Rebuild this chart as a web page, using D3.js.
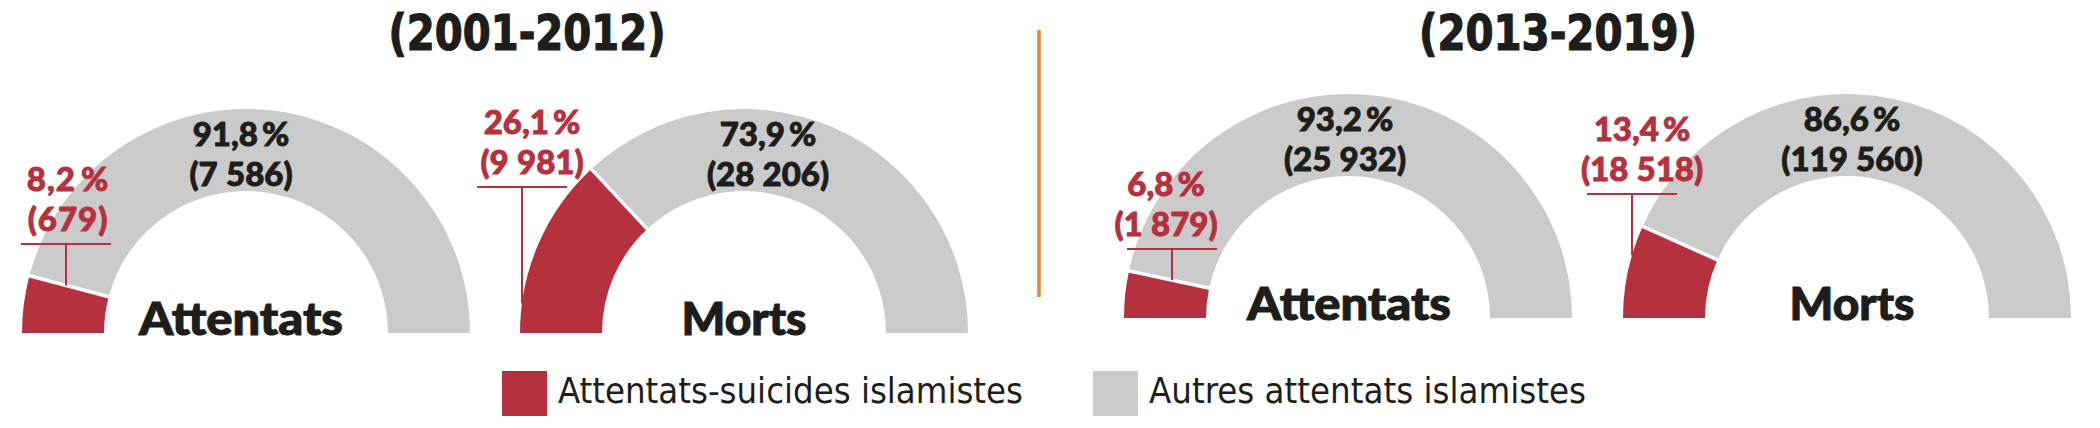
<!DOCTYPE html>
<html>
<head>
<meta charset="utf-8">
<script src="https://cdn.jsdelivr.net/npm/d3@7"></script>
<style>
  body { margin: 0; background: #fff; }
  svg { display: block; }
</style>
</head>
<body>
<div id="chart"></div>
<script>
// data
var periods = ["(2001-2012)", "(2013-2019)"];
var measures = ["Attentats", "Morts", "Attentats", "Morts"];
var suicideCounts = [679, 9981, 1879, 18518];
var otherCounts = [7586, 28206, 25932, 119560];
var suicidePct = [8.2, 26.1, 6.8, 13.4];
var otherPct = [91.8, 73.9, 93.2, 86.6];
var legendLabels = ["Attentats-suicides islamistes", "Autres attentats islamistes"];

// layout
var width = 2100, height = 428;
var red = "#b5313e", grey = "#cbcbcb", ink = "#1d1d1b", orange = "#e08c35";
var outerR = 224, innerR = 142;
var boldFont = "Lato, 'Open Sans', sans-serif";
var narrowFont = "'Liberation Sans Narrow', 'DejaVu Sans Condensed', sans-serif";

var gauges = [
  {cx: 246,  cy: 333, greyDx: -5, leadX: 66,   leadY: 244, redDx: 2,  nameDx: -5, nameW: 204},
  {cx: 744,  cy: 333, greyDx: 24, leadX: 522,  leadY: 187, redDx: 10, nameDx: 0,  nameW: 125},
  {cx: 1348, cy: 318, greyDx: -3, leadX: 1172, leadY: 249, redDx: -6, nameDx: 1,  nameW: 204},
  {cx: 1847, cy: 318, greyDx: 5,  leadX: 1632, leadY: 194, redDx: 10, nameDx: 5,  nameW: 125}
];
var titles = [{x: 527, y: 50, w: 277}, {x: 1558, y: 50, w: 278}];

var fr = d3.formatLocale({decimal: ",", thousands: "\u202f", grouping: [3], currency: ["", " €"]});
var fmtPct = function (v) { return fr.format(".1f")(v) + "\u2009%"; };
var fmtInt = fr.format(",d");

var svg = d3.select("#chart").append("svg")
  .attr("width", width).attr("height", height);

var pie = d3.pie().sort(null).startAngle(-Math.PI / 2).endAngle(Math.PI / 2);
var arc = d3.arc().innerRadius(innerR).outerRadius(outerR);
var color = d3.scaleOrdinal().domain([0, 1]).range([red, grey]);

// two-line label: percent over count
function label(g, x, y, pct, count, fill) {
  var t = g.append("text")
    .attr("text-anchor", "middle")
    .style("font-family", boldFont).style("font-weight", 900)
    .style("font-size", "33px").style("letter-spacing", "1px")
    .style("fill", fill).style("stroke", fill).style("stroke-width", 0.9);
  t.append("tspan").attr("x", x).attr("y", y).text(fmtPct(pct));
  t.append("tspan").attr("x", x).attr("dy", 40).text("(" + fmtInt(count) + ")");
  return t;
}

// titles and divider
svg.selectAll("text.title")
  .data(periods)
  .enter().append("text")
  .attr("class", "title")
  .attr("x", function (d, i) { return titles[i].x; })
  .attr("y", function (d, i) { return titles[i].y; })
  .attr("text-anchor", "middle")
  .attr("textLength", function (d, i) { return titles[i].w; })
  .attr("lengthAdjust", "spacingAndGlyphs")
  .style("font-family", narrowFont)
  .style("font-weight", 700)
  .style("font-size", "50px")
  .style("fill", ink)
  .style("stroke", ink).style("stroke-width", 1.2)
  .text(function (d) { return d; });

svg.append("line")
  .attr("x1", 1039).attr("x2", 1039)
  .attr("y1", 30).attr("y2", 297)
  .attr("stroke", orange).attr("stroke-width", 3.5);

// gauges
measures.forEach(function (m, i) {
  var L = gauges[i];
  var g = svg.append("g").attr("transform", "translate(" + L.cx + "," + L.cy + ")");
  var slices = pie([suicideCounts[i], otherCounts[i]]);

  g.selectAll("path")
    .data(slices)
    .enter().append("path")
    .attr("d", arc)
    .attr("fill", function (d, j) { return color(j); });

  // white separator between the two slices
  var a = slices[0].endAngle;
  g.append("line")
    .attr("x1", (innerR - 3) * Math.sin(a)).attr("y1", -(innerR - 3) * Math.cos(a))
    .attr("x2", (outerR + 3) * Math.sin(a)).attr("y2", -(outerR + 3) * Math.cos(a))
    .attr("stroke", "#fff").attr("stroke-width", 3.5);

  // leader from the red label down to the red slice
  var dx = L.leadX - L.cx;
  var ySep = -dx * Math.cos(a) / Math.sin(a);
  var yOut = -Math.sqrt(outerR * outerR - dx * dx);
  var redTop = Math.max(ySep, yOut);
  g.append("line")
    .attr("x1", dx - 45).attr("x2", dx + 45)
    .attr("y1", L.leadY - L.cy).attr("y2", L.leadY - L.cy)
    .attr("stroke", red).attr("stroke-width", 2);
  g.append("line")
    .attr("x1", dx).attr("x2", dx)
    .attr("y1", L.leadY - L.cy).attr("y2", redTop)
    .attr("stroke", red).attr("stroke-width", 2);

  label(g, dx + L.redDx, L.leadY - L.cy - 53, suicidePct[i], suicideCounts[i], red);
  label(g, L.greyDx, -187, otherPct[i], otherCounts[i], ink);

  // measure name
  g.append("text")
    .attr("x", L.nameDx).attr("y", 2)
    .attr("text-anchor", "middle")
    .attr("textLength", L.nameW)
    .attr("lengthAdjust", "spacingAndGlyphs")
    .style("font-family", boldFont).style("font-weight", 900)
    .style("font-size", "45px").style("fill", ink)
    .style("stroke", ink).style("stroke-width", 1)
    .text(m);
});

// legend
var legend = svg.selectAll("g.legend")
  .data(legendLabels)
  .enter().append("g")
  .attr("class", "legend")
  .attr("transform", function (d, i) { return "translate(" + [502, 1093][i] + ",371)"; });

legend.append("rect")
  .attr("width", 45).attr("height", 45)
  .attr("fill", function (d, i) { return color(i); });

legend.append("text")
  .attr("x", 56).attr("y", 32)
  .attr("textLength", function (d, i) { return [465, 437][i]; })
  .attr("lengthAdjust", "spacingAndGlyphs")
  .style("font-family", narrowFont)
  .style("font-size", "36px")
  .style("fill", ink)
  .text(function (d) { return d; });
</script>
</body>
</html>
